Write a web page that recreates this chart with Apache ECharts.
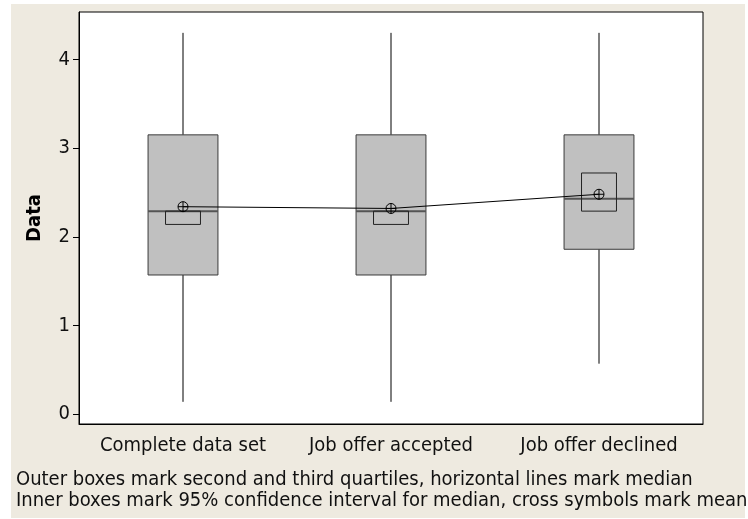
<!DOCTYPE html>
<html>
<head>
<meta charset="utf-8">
<script src="https://cdn.jsdelivr.net/npm/echarts@6/dist/echarts.min.js"></script>
<style>
  html, body { margin: 0; padding: 0; background: #fff; }
  #main { width: 748px; height: 519px; }
</style>
</head>
<body>
<div id="main"></div>
<script>
// values
var categories = ['Complete data set', 'Job offer accepted', 'Job offer declined'];
var whiskerLow = [0.14, 0.14, 0.57];
var q1 = [1.57, 1.57, 1.86];
var median = [2.29, 2.29, 2.43];
var q3 = [3.15, 3.15, 3.15];
var whiskerHigh = [4.30, 4.30, 4.30];
var ciLow = [2.14, 2.14, 2.29];
var ciHigh = [2.29, 2.29, 2.72];
var means = [2.34, 2.32, 2.48];
var yTicks = [0, 1, 2, 3, 4];
var notes = [
  'Outer boxes mark second and third quartiles, horizontal lines mark median',
  'Inner boxes mark 95% confidence interval for median, cross symbols mark mean'
];

var fontName = 'DejaVu Sans Condensed';

var boxData = categories.map(function (c, i) {
  return [i, whiskerLow[i], q1[i], median[i], q3[i], whiskerHigh[i], ciLow[i], ciHigh[i]];
});

function renderBox(params, api) {
  var i = api.value(0);
  var bandW = api.size([1, 0])[0];
  var half = bandW * 0.168;
  var ciHalf = bandW * 0.084;
  var pLow = api.coord([i, api.value(1)]);
  var pQ1 = api.coord([i, api.value(2)]);
  var pMed = api.coord([i, api.value(3)]);
  var pQ3 = api.coord([i, api.value(4)]);
  var pHigh = api.coord([i, api.value(5)]);
  var pCiL = api.coord([i, api.value(6)]);
  var pCiH = api.coord([i, api.value(7)]);
  var x = pMed[0];
  return {
    type: 'group',
    children: [
      { type: 'line', shape: { x1: x, y1: pHigh[1], x2: x, y2: pQ3[1] }, style: { stroke: '#000', lineWidth: 1 } },
      { type: 'line', shape: { x1: x, y1: pQ1[1], x2: x, y2: pLow[1] }, style: { stroke: '#000', lineWidth: 1 } },
      { type: 'rect', shape: { x: x - half, y: pQ3[1], width: half * 2, height: pQ1[1] - pQ3[1] },
        style: { fill: '#c0c0c0', stroke: '#3a3a3a', lineWidth: 1 } },
      { type: 'line', shape: { x1: x - half, y1: pMed[1], x2: x + half, y2: pMed[1] }, style: { stroke: '#555', lineWidth: 2 } },
      { type: 'rect', shape: { x: x - ciHalf, y: pCiH[1], width: ciHalf * 2, height: pCiL[1] - pCiH[1] },
        style: { fill: 'none', stroke: '#222', lineWidth: 1 } }
    ]
  };
}

function renderMean(params, api) {
  var p = api.coord([api.value(0), api.value(1)]);
  var r = 5;
  return {
    type: 'group',
    children: [
      { type: 'circle', shape: { cx: p[0], cy: p[1], r: r }, style: { fill: 'none', stroke: '#000', lineWidth: 1 } },
      { type: 'line', shape: { x1: p[0] - r, y1: p[1], x2: p[0] + r, y2: p[1] }, style: { stroke: '#000', lineWidth: 1 } },
      { type: 'line', shape: { x1: p[0], y1: p[1] - r, x2: p[0], y2: p[1] + r }, style: { stroke: '#000', lineWidth: 1 } }
    ]
  };
}

var chart = echarts.init(document.getElementById('main'));
chart.setOption({
  animation: false,
  graphic: [
    { type: 'rect', z: -10, shape: { x: 11, y: 4, width: 734, height: 514 }, style: { fill: '#eeeae0' } },
    { type: 'text', left: 16, top: 470, style: { text: notes[0], font: '20px "' + fontName + '"', fill: '#111' } },
    { type: 'text', left: 16, top: 491, style: { text: notes[1], font: '20px "' + fontName + '"', fill: '#111' } }
  ],
  grid: {
    left: 79, right: 45, top: 12, bottom: 95,
    show: true, backgroundColor: '#fff', borderColor: '#000', borderWidth: 1
  },
  xAxis: {
    type: 'category',
    data: categories,
    boundaryGap: true,
    axisLine: { onZero: false, lineStyle: { color: '#000' } },
    axisTick: { alignWithLabel: true, interval: 0, length: 6, lineStyle: { color: '#000' } },
    axisLabel: { color: '#111', fontFamily: fontName, fontSize: 20, margin: 12, interval: 0, hideOverlap: false },
    splitLine: { show: false }
  },
  yAxis: {
    type: 'value',
    min: -0.11, max: 4.535,
    name: 'Data',
    nameLocation: 'middle',
    nameGap: 34,
    nameTextStyle: { color: '#000', fontFamily: fontName, fontSize: 20, fontWeight: 'bold' },
    axisLine: { show: true, lineStyle: { color: '#000' } },
    axisTick: { show: true, length: 6, customValues: yTicks, lineStyle: { color: '#000' } },
    axisLabel: { color: '#111', fontFamily: fontName, fontSize: 20, margin: 9, customValues: yTicks },
    splitLine: { show: false }
  },
  series: [
    { type: 'custom', renderItem: renderBox, data: boxData, z: 2 },
    { type: 'line', data: means, symbol: 'none', lineStyle: { color: '#000', width: 1 }, z: 3 },
    { type: 'custom', renderItem: renderMean, data: means.map(function (m, i) { return [i, m]; }), z: 4 }
  ]
});
</script>
</body>
</html>
